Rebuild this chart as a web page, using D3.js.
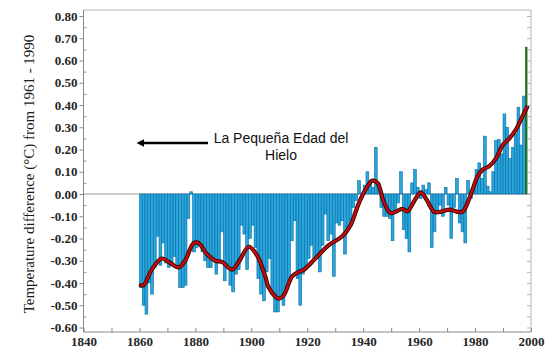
<!DOCTYPE html>
<html><head><meta charset="utf-8">
<script src="https://cdn.jsdelivr.net/npm/d3@7"></script>
<style>html,body{margin:0;padding:0;background:#fff;}svg{display:block;}</style>
</head><body>
<svg id="c" width="546" height="351"></svg>
<script>
const firstYear = 1860;
const anomalies = [
 -0.42,-0.50,-0.54,-0.40,-0.45,-0.33,-0.19,-0.32,-0.22,-0.31,
 -0.33,-0.32,-0.28,-0.32,-0.42,-0.42,-0.41,-0.11,0.01,-0.26,
 -0.24,-0.21,-0.26,-0.30,-0.33,-0.33,-0.29,-0.36,-0.30,-0.17,
 -0.39,-0.33,-0.41,-0.44,-0.36,-0.34,-0.14,-0.18,-0.34,-0.20,
 -0.14,-0.24,-0.38,-0.45,-0.48,-0.35,-0.29,-0.45,-0.53,-0.53,
 -0.47,-0.50,-0.42,-0.38,-0.21,-0.12,-0.38,-0.50,-0.36,-0.32,
 -0.29,-0.23,-0.30,-0.29,-0.35,-0.23,-0.09,-0.21,-0.18,-0.37,
 -0.13,-0.14,-0.12,-0.27,-0.16,-0.12,-0.06,-0.03,0.06,0.00,
 0.04,0.10,0.05,0.03,0.21,0.05,-0.06,-0.10,-0.10,-0.11,
 -0.21,-0.07,-0.04,0.10,-0.16,-0.20,-0.26,0.05,0.11,0.03,
 -0.02,0.04,0.02,0.05,-0.24,-0.17,-0.08,-0.05,-0.10,0.03,
 -0.05,-0.20,-0.06,0.07,-0.13,-0.17,-0.22,0.06,-0.02,0.04,
 0.11,0.14,0.07,0.26,0.035,0.01,0.10,0.24,0.245,0.18,
 0.36,0.30,0.16,0.21,0.27,0.39,0.22,0.44,0.66
];
const years = anomalies.map((_, i) => firstYear + i);
const highlightYear = 1998;

// smoothed curve
const smoothYears = [1860.0,1861.0,1863.9,1867.5,1870.5,1873.5,1875.8,1878.9,1880.6,1883.6,1886.6,1889.0,1892.6,1895.0,1898.6,1901.5,1904.5,1905.7,1909.3,1911.1,1914.1,1916.5,1918.3,1922.4,1927.2,1932.0,1935.0,1938.0,1941.0,1942.8,1944.6,1947.0,1949.3,1951.1,1953.5,1955.3,1958.3,1960.1,1961.9,1964.9,1967.2,1970.3,1973.2,1975.0,1976.8,1978.6,1980.4,1982.2,1984.6,1987.0,1989.4,1991.8,1994.1,1996.5,1998.1];
const smoothValues = [-0.41,-0.41,-0.34,-0.29,-0.31,-0.33,-0.30,-0.22,-0.22,-0.27,-0.30,-0.305,-0.34,-0.305,-0.237,-0.275,-0.37,-0.42,-0.47,-0.455,-0.37,-0.35,-0.34,-0.29,-0.23,-0.19,-0.14,-0.04,0.034,0.06,0.05,-0.04,-0.086,-0.08,-0.067,-0.078,-0.02,0.007,-0.02,-0.08,-0.08,-0.07,-0.08,-0.08,-0.04,0.02,0.08,0.11,0.125,0.16,0.22,0.25,0.29,0.35,0.39];

const xTicks = [1840,1860,1880,1900,1920,1940,1960,1980,2000];
const xMinorTicks = [1850,1870,1890,1910,1930,1950,1970,1990];
const yTicks = [-0.6,-0.5,-0.4,-0.3,-0.2,-0.1,0.0,0.1,0.2,0.3,0.4,0.5,0.6,0.7,0.8];
const yMinorTicks = [-0.55,-0.45,-0.35,-0.25,-0.15,-0.05,0.05,0.15,0.25,0.35,0.45,0.55,0.65,0.75];
const yTitle = "Temperature difference (°C) from 1961 - 1990";
const noteLines = ["La Pequeña Edad del", "Hielo"];

const svg = d3.select("#c");
const x = d3.scaleLinear().domain([1840, 2000]).range([83.5, 531]);
const y = d3.scaleLinear().domain([-0.6, 0.8]).range([327.5, 16]);
const frameTop = 10, frameBottom = 332;
const serif = "'Liberation Serif','Times New Roman',serif";

// frame
svg.append("line").attr("x1", x(1840)).attr("x2", x(2000)).attr("y1", frameTop).attr("y2", frameTop).attr("stroke", "#b5b5b5");
svg.append("line").attr("x1", x(2000)).attr("x2", x(2000)).attr("y1", frameTop).attr("y2", frameBottom).attr("stroke", "#b5b5b5");

// zero line
svg.append("line").attr("x1", x(1840)).attr("x2", x(2000)).attr("y1", y(0)).attr("y2", y(0)).attr("stroke", "#9a9a9a").attr("stroke-width", 1);

// bars
const data = years.map((yr, i) => ({yr, v: anomalies[i]}));
svg.append("g").selectAll("rect").data(data).join("rect")
  .attr("x", d => x(d.yr))
  .attr("width", d => d.yr === highlightYear ? (x(d.yr + 1) - x(d.yr)) * 0.6 : x(d.yr + 1) - x(d.yr))
  .attr("y", d => y(Math.max(0, d.v)))
  .attr("height", d => Math.abs(y(d.v) - y(0)))
  .attr("fill", d => d.yr === highlightYear ? "#237f23" : "#27a6df")
  .attr("stroke", d => d.yr === highlightYear ? "#195e19" : "#0d6b9c")
  .attr("stroke-width", 0.6);

// smooth curve
const sm = smoothYears.map((yr, i) => [yr, smoothValues[i]]);
const line = d3.line().x(d => x(d[0] + 0.5)).y(d => y(d[1])).curve(d3.curveCatmullRom.alpha(0.5));
svg.append("path").attr("d", line(sm)).attr("fill", "none").attr("stroke", "#3a0000").attr("stroke-width", 4.2).attr("stroke-linejoin", "round").attr("stroke-linecap", "round");
svg.append("path").attr("d", line(sm)).attr("fill", "none").attr("stroke", "#c00d0d").attr("stroke-width", 2.4).attr("stroke-linejoin", "round").attr("stroke-linecap", "round");

// left axis
const fmt = v => (Math.abs(v) < 1e-9 ? 0 : v).toFixed(2);
const gl = svg.append("g").attr("transform", `translate(${x(1840)},0)`)
  .call(d3.axisLeft(y).tickValues(yTicks).tickFormat(fmt).tickSize(4).tickPadding(2).tickSizeOuter(0));
gl.select(".domain").remove();
gl.selectAll("line").attr("stroke", "#888");
gl.selectAll("text").attr("font-family", serif).attr("font-size", 13).attr("font-weight", "bold").attr("fill", "#262626");
const glm = svg.append("g").attr("transform", `translate(${x(1840)},0)`)
  .call(d3.axisLeft(y).tickValues(yMinorTicks).tickFormat("").tickSize(-3).tickSizeOuter(0));
glm.select(".domain").remove();
glm.selectAll("line").attr("stroke", "#999");
svg.append("line").attr("x1", x(1840)).attr("x2", x(1840)).attr("y1", frameTop).attr("y2", frameBottom).attr("stroke", "#888");

// right axis ticks
const gr = svg.append("g").attr("transform", `translate(${x(2000)},0)`)
  .call(d3.axisRight(y).tickValues(yTicks.concat(yMinorTicks)).tickFormat("").tickSize(-4).tickSizeOuter(0));
gr.select(".domain").remove();
gr.selectAll("line").attr("stroke", "#b5b5b5");

// bottom axis
const gb = svg.append("g").attr("transform", `translate(0,${frameBottom})`)
  .call(d3.axisBottom(x).tickValues(xTicks).tickFormat(d3.format("d")).tickSize(-4).tickPadding(5).tickSizeOuter(0));
gb.select(".domain").remove();
gb.selectAll("line").attr("stroke", "#888");
gb.selectAll("text").attr("font-family", serif).attr("font-size", 13).attr("font-weight", "bold").attr("fill", "#262626");
const gbm = svg.append("g").attr("transform", `translate(0,${frameBottom})`)
  .call(d3.axisBottom(x).tickValues(xMinorTicks).tickFormat("").tickSize(-4).tickSizeOuter(0));
gbm.select(".domain").remove();
gbm.selectAll("line").attr("stroke", "#888");
svg.append("line").attr("x1", x(1840)).attr("x2", x(2000)).attr("y1", frameBottom).attr("y2", frameBottom).attr("stroke", "#888");

// y title
svg.append("text").attr("transform", "translate(34,174) rotate(-90)")
  .attr("text-anchor", "middle").attr("font-family", serif).attr("font-size", 15).attr("fill", "#1a1a1a")
  .text(yTitle);

// annotation
svg.append("line").attr("x1", 142).attr("x2", 208).attr("y1", 143).attr("y2", 143).attr("stroke", "#000").attr("stroke-width", 2.4);
svg.append("path").attr("d", "M136.5,143 L144,139.3 L144,146.7 Z").attr("fill", "#000");
const note = svg.append("text").attr("text-anchor", "middle").attr("font-family", "'Liberation Sans',Arial,sans-serif").attr("font-size", 14).attr("fill", "#111");
note.selectAll("tspan").data(noteLines).join("tspan").attr("x", 281).attr("y", (d, i) => 143 + i * 17).text(d => d);
</script>
</body></html>
